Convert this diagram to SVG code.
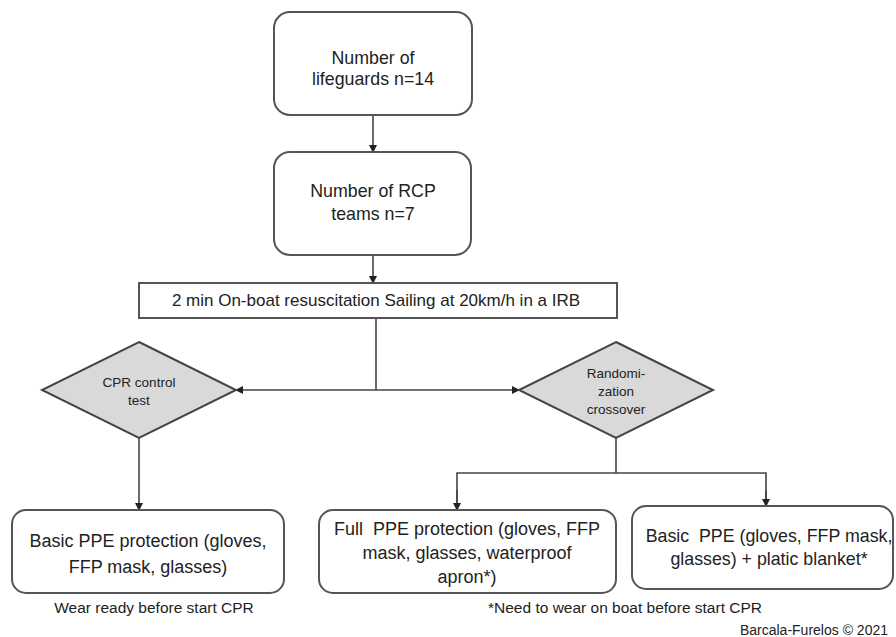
<svg xmlns="http://www.w3.org/2000/svg" width="896" height="637" viewBox="0 0 896 637">
<defs>
<marker id="ah" markerWidth="8" markerHeight="8" refX="7" refY="4" orient="auto" markerUnits="userSpaceOnUse">
<path d="M0,0 L8,4 L0,8 Z" fill="#222"/>
</marker>
<style>
.box{fill:#fff;stroke:#555;stroke-width:2}
.dia{fill:#d9d9d9;stroke:#444;stroke-width:2}
.ln{fill:none;stroke:#444;stroke-width:1.6}
.t{font-family:"Liberation Sans",Arial,sans-serif;fill:#222;text-anchor:middle}
.big{font-size:17.8px}
.bot{font-size:18px}
.mid{font-size:17px}
.sm{font-size:13.5px}
.note{font-size:15.5px}
</style>
</defs>
<rect width="896" height="637" fill="#fff"/>
<g id="connectors">
<line class="ln" x1="373" y1="115" x2="373" y2="152" marker-end="url(#ah)"/>
<line class="ln" x1="373" y1="255" x2="373" y2="283" marker-end="url(#ah)"/>
<line class="ln" x1="376" y1="318" x2="376" y2="390"/>
<line class="ln" x1="376" y1="390" x2="236" y2="390" marker-end="url(#ah)"/>
<line class="ln" x1="376" y1="390" x2="519" y2="390" marker-end="url(#ah)"/>
<line class="ln" x1="139" y1="438" x2="139" y2="510" marker-end="url(#ah)"/>
<polyline class="ln" points="616,438 616,473"/>
<polyline class="ln" points="457,510 457,473 766,473 766,506"/>
<line class="ln" x1="457" y1="490" x2="457" y2="510" marker-end="url(#ah)"/>
<line class="ln" x1="766" y1="490" x2="766" y2="506" marker-end="url(#ah)"/>
</g>
<g id="n1">
<rect class="box" x="274" y="12" width="198" height="103" rx="16"/>
<text class="t big" x="373" y="64">Number of</text>
<text class="t big" x="373" y="85">lifeguards n=14</text>
</g>
<g id="n2">
<rect class="box" x="274" y="152" width="197" height="103" rx="16"/>
<text class="t big" x="373" y="197">Number of RCP</text>
<text class="t big" x="373" y="220">teams n=7</text>
</g>
<g id="n3">
<rect class="box" x="139" y="283" width="478" height="35"/>
<text class="t mid" x="376" y="306">2 min On-boat resuscitation Sailing at 20km/h in a IRB</text>
</g>
<g id="n4">
<polygon class="dia" points="139,342 236,390 139,438 42,390"/>
<text class="t sm" x="139" y="387">CPR control</text>
<text class="t sm" x="139" y="405">test</text>
</g>
<g id="n5">
<polygon class="dia" points="616,342 713,390 616,438 519,390"/>
<text class="t sm" x="616" y="378">Randomi-</text>
<text class="t sm" x="616" y="396">zation</text>
<text class="t sm" x="616" y="414">crossover</text>
</g>
<g id="n6">
<rect class="box" x="12" y="510" width="272" height="83" rx="14"/>
<text class="t bot" x="148" y="547">Basic PPE protection (gloves,</text>
<text class="t bot" x="148" y="573">FFP mask, glasses)</text>
<text class="t note" x="154" y="613">Wear ready before start CPR</text>
</g>
<g id="n7">
<rect class="box" x="319" y="510" width="297" height="83" rx="14"/>
<text class="t bot" x="467" y="535">Full&#160; PPE protection (gloves, FFP</text>
<text class="t bot" x="467" y="559">mask, glasses, waterproof</text>
<text class="t bot" x="467" y="583">apron*)</text>
</g>
<g id="n8">
<rect class="box" x="632" y="506" width="261" height="83" rx="14"/>
<text class="t big" x="769" y="542">Basic&#160; PPE (gloves, FFP mask,</text>
<text class="t big" x="769" y="565">glasses) + platic blanket*</text>
</g>
<text class="t note" x="625" y="613">*Need to wear on boat before start CPR</text>
<text x="888" y="635" style="font-family:'Liberation Sans',Arial,sans-serif;font-size:14px;fill:#222;text-anchor:end">Barcala-Furelos © 2021</text>
</svg>
